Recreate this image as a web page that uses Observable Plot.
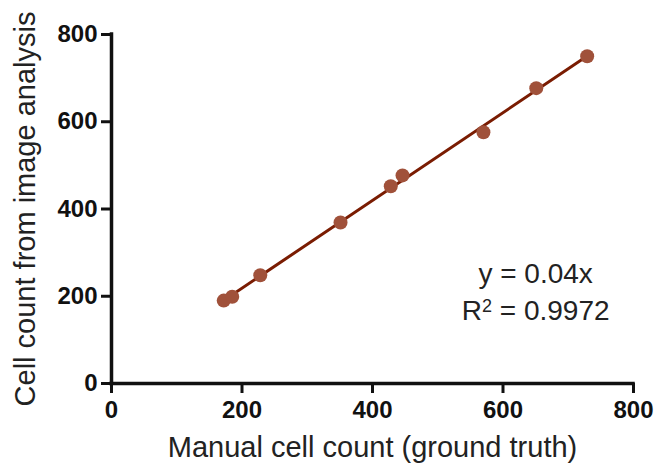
<!DOCTYPE html>
<html>
<head>
<meta charset="utf-8">
<script src="https://cdn.jsdelivr.net/npm/d3@7"></script>
<script src="https://cdn.jsdelivr.net/npm/@observablehq/plot@0.6"></script>
<style>
  html, body { margin: 0; padding: 0; background: #fff; }
  svg text { font-family: "Liberation Sans", Arial, Helvetica, sans-serif; }
</style>
</head>
<body>
<div id="chart"></div>
<script>
// Manual (ground truth) counts and image-analysis counts
const manualCount = [172, 185, 228, 351, 428, 446, 570, 651, 729];
const imageCount  = [190, 199, 248, 369, 452, 477, 576, 677, 750];
const tickValues  = [0, 200, 400, 600, 800];
const annotationLines = ["y = 0.04x", "R2 = 0.9972"];
const annotationX = [650, 650];
const annotationY = [252, 167];
const xTitle = "Manual cell count (ground truth)";
const yTitle = "Cell count from image analysis";

const data = manualCount.map((m, i) => ({manual: m, image: imageCount[i]}));
const notes = annotationLines.map((t, i) => ({text: t, x: annotationX[i], y: annotationY[i]}));

const chart = Plot.plot({
  width: 658,
  height: 467,
  marginLeft: 111,
  marginRight: 25,
  marginTop: 34,
  marginBottom: 84,
  x: {domain: [0, 800]},
  y: {domain: [0, 800]},
  style: {fontFamily: "Liberation Sans, Arial, sans-serif", background: "#fff"},
  marks: [
    Plot.axisX({ticks: tickValues, tickSize: 10, tickPadding: 7, strokeWidth: 3, fontSize: 24, fontWeight: "bold", color: "#111", label: null, tickFormat: d3.format("d")}),
    Plot.axisY({ticks: tickValues, tickSize: 10, tickPadding: 4, strokeWidth: 3, fontSize: 24, fontWeight: "bold", color: "#111", label: null, tickFormat: d3.format("d")}),
    Plot.ruleY([0], {stroke: "#111", strokeWidth: 3.5, strokeLinecap: "square"}),
    Plot.ruleX([0], {stroke: "#111", strokeWidth: 3.5, strokeLinecap: "square"}),
    Plot.linearRegressionY(data, {x: "manual", y: "image", ci: 0, stroke: "#7a1c02", strokeWidth: 3}),
    Plot.dot(data, {x: "manual", y: "image", r: 7, fill: "#a0513a", stroke: "none"}),
    Plot.text(notes, {x: "x", y: "y", text: "text", fontSize: 28, fill: "#222", textAnchor: "middle", lineAnchor: "middle", className: "note"}),
    Plot.text([xTitle], {frameAnchor: "bottom", dy: 64, fontSize: 29, fill: "#222", textAnchor: "middle", lineAnchor: "middle"}),
    Plot.text([yTitle], {frameAnchor: "left", dx: -86, rotate: -90, fontSize: 29, fill: "#222", textAnchor: "middle", lineAnchor: "middle"})
  ]
});
// turn the "2" after R into a real superscript
d3.select(chart).selectAll("text").each(function() {
  const t = d3.select(this);
  if (t.text() === "R2 = 0.9972") {
    t.text(null);
    t.append("tspan").text("R");
    t.append("tspan").attr("dy", "-0.45em").attr("font-size", "18").text("2");
    t.append("tspan").attr("dy", "0.3em").text(" = 0.9972");
  }
});
document.getElementById("chart").appendChild(chart);
</script>
</body>
</html>
